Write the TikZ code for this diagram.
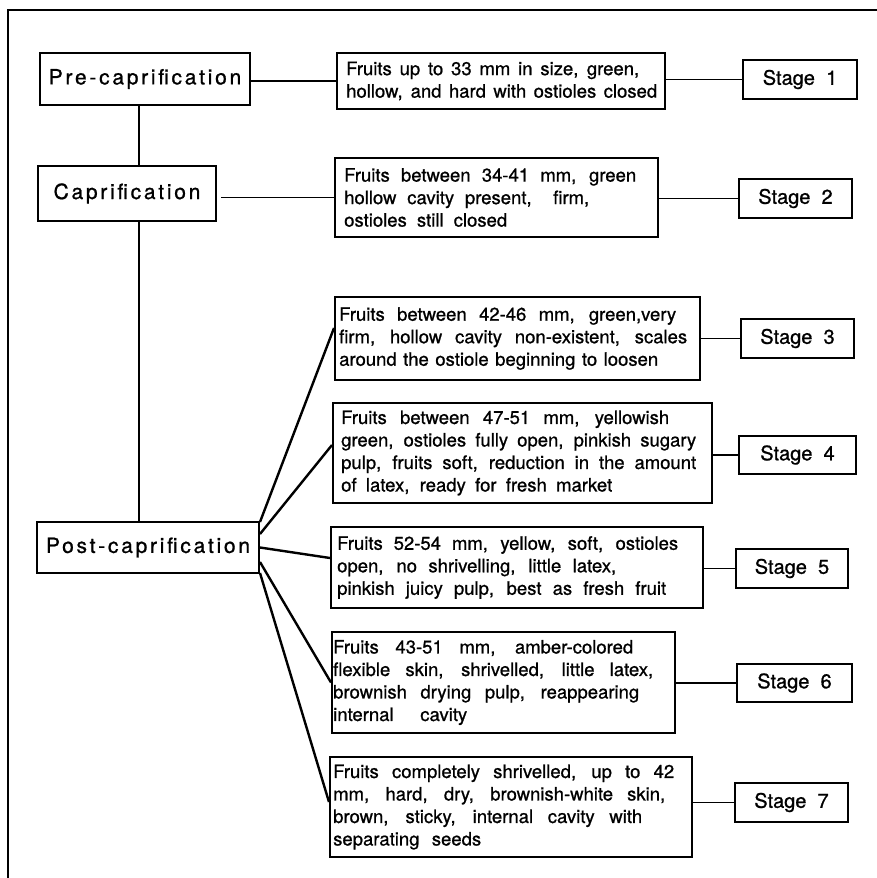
\documentclass[tikz,border=0pt]{standalone}
\usepackage{fontspec}
\setmainfont{TeX Gyre Heros}[FakeBold=0.9]
\usetikzlibrary{calc}
\tikzset{
  box/.style={draw, line width=2pt, inner sep=0pt},
  desc/.style={anchor=west, inner sep=0pt, align=left, font=\fontsize{18.5}{22.5}\selectfont},
  stagetext/.style={font=\fontsize{20}{24}\selectfont},
  phase/.style={font=\fontsize{21}{25}\selectfont\addfontfeatures{LetterSpace=13}},
  conn/.style={line width=1.6pt},
  fan/.style={line width=2.4pt},
  frame/.style={line width=2.2pt}
}
\newcommand\bx[7][]{\node[box,#1, minimum width={(#4-#2)*1pt}, minimum height={(#6-#3)*1pt}] (#7) at ({(#2+#4)/2},{(#3+#6)/2}) {#5};}
\newcommand\jl[2]{\makebox[#1pt][s]{#2}}
\begin{document}
\begin{tikzpicture}[x=1pt,y=-1pt]
\useasboundingbox (0,0) rectangle (877,878);
\draw[frame] (877,10) -- (8,10) -- (8,878);

% phase boxes  [style]{x1}{y1}{x2}{text}{y2}{name}
\bx[phase]{40}{53}{250}{Pre-caprification}{105}{pre}
\bx[phase]{38}{166}{216}{Caprification}{221}{cap}
\bx[phase]{37}{522}{259}{Post-caprification}{573}{post}

% description boxes
\bx{337}{53}{665}{}{109}{d1}
\bx{335}{158}{658}{}{237}{d2}
\bx{335}{297}{700}{}{380}{d3}
\bx{333}{403}{712}{}{503}{d4}
\bx{331}{527}{703}{}{608}{d5}
\bx{332}{632}{675}{}{733}{d6}
\bx{330}{757}{692}{}{857}{d7}

\node[desc] (t1) at ($(d1.west)+(10,0)$) {\jl{293}{Fruits up to 33 mm in size, green,}\\\jl{311}{hollow, and hard with ostioles closed}};
\node[desc] (t2) at ($(d2.west)+(10,0)$) {\jl{292}{Fruits between 34-41 mm, green}\\\jl{245}{hollow cavity present,\ \ firm,}\\\jl{163}{ostioles still closed}};
\node[desc] (t3) at ($(d3.west)+(5,0)$) {\jl{337}{Fruits between 42-46 mm, green,very}\\\jl{348}{firm, hollow cavity non-existent, scales}\\\jl{319}{around the ostiole beginning to loosen}};
\node[desc] (t4) at ($(d4.west)+(9,0)$) {\jl{328}{Fruits between 47-51 mm, yellowish}\\\jl{355}{green, ostioles fully open, pinkish sugary}\\\jl{355}{pulp, fruits soft, reduction in the amount}\\\jl{271}{of latex, ready for fresh market}};
\node[desc] (t5) at ($(d5.west)+(7,0)$) {\jl{341}{Fruits 52-54 mm, yellow, soft, ostioles}\\\jl{279}{open, no shrivelling, little latex,}\\\jl{329}{pinkish juicy pulp, best as fresh fruit}};
\node[desc] (t6) at ($(d6.west)+(2,0)$) {\jl{300}{Fruits 43-51 mm, amber-colored}\\\jl{320}{flexible skin, shrivelled, little latex,}\\\jl{306}{brownish drying pulp, reappearing}\\\jl{134}{internal\ \ cavity}};
\node[desc] (t7) at ($(d7.west)+(4,0)$) {\jl{341}{Fruits completely shrivelled, up to 42}\\\jl{332}{mm, hard, dry, brownish-white skin,}\\\jl{309}{brown, sticky, internal cavity with}\\\jl{148}{separating seeds}};

% stage boxes
\bx[stagetext]{743}{60}{857}{Stage\ \ 1}{99}{s1}
\bx[stagetext]{739}{179}{852}{Stage\ \ 2}{218}{s2}
\bx[stagetext]{741}{319}{854}{Stage\ \ 3}{358}{s3}
\bx[stagetext]{739}{436}{856}{Stage\ \ 4}{474}{s4}
\bx[stagetext]{736}{549}{848}{Stage\ \ 5}{588}{s5}
\bx[stagetext]{737}{664}{852}{Stage\ \ 6}{702}{s6}
\bx[stagetext]{735}{783}{848}{Stage\ \ 7}{822}{s7}

% trunk
\coordinate (trunk) at (139,0);
\draw[conn] (pre.south -| trunk) -- (cap.north -| trunk);
\draw[conn] (cap.south -| trunk) -- (post.north -| trunk);

% phase to descriptions
\draw[conn] (pre.east |- d1.west) -- (d1.west);
\draw[conn] ([xshift=4pt]cap.east |- d2.west) -- (d2.west);
\draw[fan] ([yshift=-1pt]post.north east) -- ([yshift=10.5pt]d3.west);
\draw[fan] ([yshift=-13pt]post.north east) -- ([yshift=8pt]d4.west);
\draw[fan] (post.east) -- ([yshift=9.5pt]d5.west);
\draw[fan] ([yshift=-14.5pt]post.east) -- (d6.west);
\draw[fan] ([yshift=1pt]post.south east) -- ([yshift=5pt]d7.west);

% descriptions to stages
\foreach \i in {1,...,7}{
  \draw[conn] (d\i.east |- s\i.west) -- (s\i.west);
}
\end{tikzpicture}
\end{document}
